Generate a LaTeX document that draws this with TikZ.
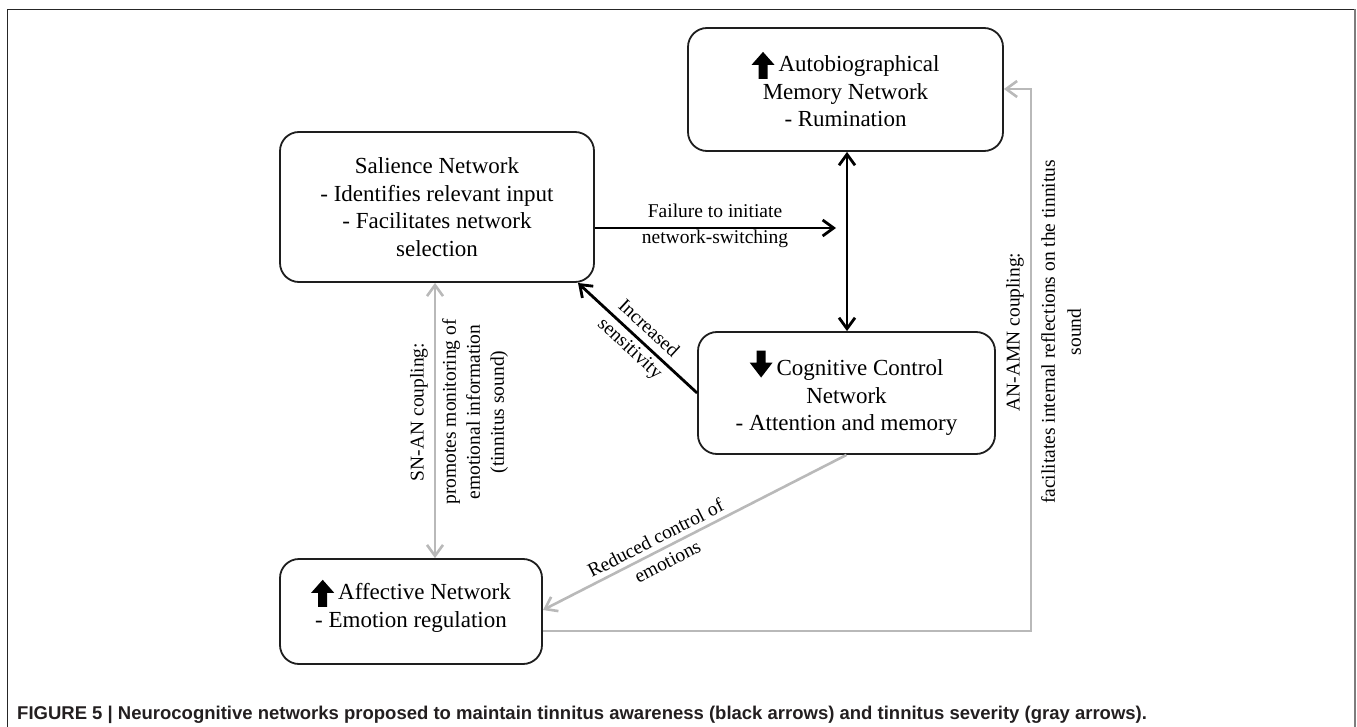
\documentclass[tikz,border=0pt]{standalone}
\usepackage{fontspec}
\setmainfont{Liberation Serif}
\newfontfamily\capfont{Liberation Sans}
\usetikzlibrary{arrows.meta}
\definecolor{lgray}{RGB}{185,185,185}
\definecolor{framegray}{RGB}{125,125,125}
\definecolor{capcol}{RGB}{35,31,32}
\definecolor{boxcol}{RGB}{30,30,30}
\newcommand{\bigup}{\tikz[baseline=0pt,x=1pt,y=1pt,sharp corners]\fill[black] (7,-7) -- (7,7) -- (0,7) -- (11.5,20) -- (23,7) -- (16,7) -- (16,-7) -- cycle;\hspace{4pt}}
\newcommand{\bigdown}{\tikz[baseline=0pt,x=1pt,y=1pt,sharp corners]\fill[black] (7,25) -- (7,13) -- (0,13) -- (11.5,-2) -- (23,13) -- (16,13) -- (16,25) -- cycle;\hspace{4pt}}
\begin{document}
\begin{tikzpicture}[x=1pt,y=-1pt,
  box/.style={draw=boxcol, line width=1.8pt, rounded corners=19pt, align=center,
    font=\fontsize{23}{27.5}\selectfont, inner sep=0pt},
  boxtext/.style={align=center, font=\fontsize{23}{27.5}\selectfont, inner sep=0pt},
  lbl/.style={font=\fontsize{19.5}{26}\selectfont, inner sep=0pt, text=black},
  >={Straight Barb[length=11pt,width=16pt]},
  blk/.style={line width=2.8pt, black},
  gry/.style={line width=2.6pt, lgray}]
\path[use as bounding box] (0,0) rectangle (1357,727);
\draw[line width=1.5pt, black!85] (7.5,727) -- (7.5,9.5) -- (1355,9.5);
\draw[line width=2pt, framegray] (1355,9.5) -- (1355,727);

\node[box, minimum width=315pt, minimum height=123pt] (amn) at (845.5,89.5)
  {\bigup Autobiographical\\Memory Network\\- Rumination};
\node[box, minimum width=314pt, minimum height=150pt] (sn) at (437,207)
  {Salience Network\\- Identifies relevant input\\- Facilitates network\\selection};
\node[box, minimum width=297pt, minimum height=122pt] (ccn) at (846.5,393)
  {\bigdown Cognitive Control\\Network\\- Attention and memory};
\node[box, minimum width=262pt, minimum height=105pt] (an) at (411,611.5) {};
\node[boxtext] (antext) at ([yshift=5.5pt]an.center)
  {\bigup Affective Network\\- Emotion regulation};

% coordinates
\coordinate (vx) at (847,0);
\coordinate (hy) at (0,228);
\coordinate (hend) at (836,228);
\coordinate (snc) at (578,283);
\coordinate (snx) at (435,0);
\coordinate (anr) at (543,610);
\coordinate (c1) at (1031,631);
\coordinate (c2) at (1031,89);

% black arrows
\draw[blk,<->] (amn.south -| vx) -- (ccn.north -| vx);
\draw[blk,->] (sn.east |- hy) -- (hend);
\draw[blk,->] (ccn.west) -- node[lbl, sloped, align=center, pos=0.49] (linc) {Increased\\[1pt]sensitivity} (snc);

% gray arrows
\draw[gry,<->] (sn.south -| snx) -- (an.north -| snx);
\draw[gry,->] (ccn.south) -- node[lbl, sloped, align=center, pos=0.61] (lred) {Reduced control of\\emotions} (anr);
\draw[gry,->] (an.east |- c1) -- (c1) -- (c2) -- (amn.east |- c2);

% labels
\node[lbl, align=center] (lfail) at (715,225.5) {Failure to initiate\\network-switching};
\node[lbl, rotate=90] (lsna) at (419,412) {SN-AN coupling:};
\node[lbl, rotate=90, align=center, font=\fontsize{19.5}{24}\selectfont] (lsnb) at (475,412) {promotes monitoring of\\emotional information\\(tinnitus sound)};
\node[lbl, rotate=90] (lama) at (1015,332) {AN-AMN coupling:};
\node[lbl, rotate=90, align=center] (lamb) at (1061,332) {facilitates internal reflections on the tinnitus\\sound};

% caption
\node[anchor=base west, inner sep=0pt, text=capcol] (cap) at (17,719)
  {\capfont\bfseries\fontsize{18.5}{22}\selectfont FIGURE 5 | Neurocognitive networks proposed to maintain tinnitus awareness (black arrows) and tinnitus severity (gray arrows).};
\end{tikzpicture}
\end{document}
